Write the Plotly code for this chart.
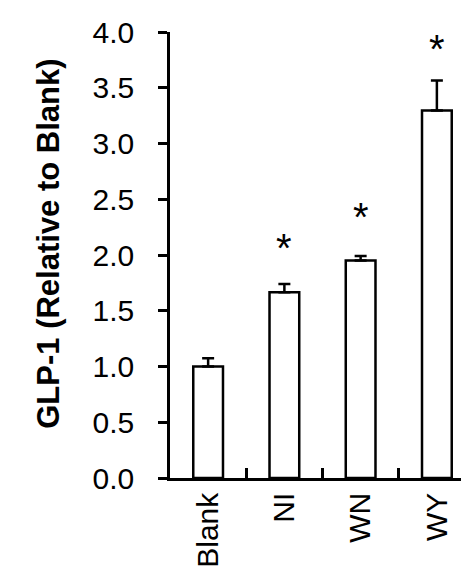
import plotly.graph_objects as go

categories = ["Blank", "NI", "WN", "WY"]
values = [1.0, 1.667, 1.95, 3.297]
errors_up = [0.075, 0.072, 0.04, 0.269]
star_labels = ["", "*", "*", "*"]
star_level = [None, 2.02, 2.30, 3.80]
y_ticks = [0.0, 0.5, 1.0, 1.5, 2.0, 2.5, 3.0, 3.5, 4.0]
y_title = "GLP-1 (Relative to Blank)"

FONT = "Liberation Sans, Arial, sans-serif"

fig = go.Figure()
fig.add_trace(go.Bar(
    x=categories, y=values, width=0.39,
    marker=dict(color="white", line=dict(color="black", width=2.5)),
    error_y=dict(type="data", symmetric=False, array=errors_up,
                 arrayminus=[0] * len(values), color="black",
                 thickness=2.5, width=6),
    showlegend=False,
))

for c, s, yl in zip(categories, star_labels, star_level):
    if s and yl is not None:
        fig.add_annotation(x=c, y=yl, text=s, showarrow=False,
                           xanchor="center", yanchor="middle", yshift=5,
                           font=dict(family=FONT, size=40, color="black"))

fig.add_annotation(xref="paper", yref="paper", x=-0.397, y=0.525,
                   text="<b>" + y_title + "</b>", textangle=-90,
                   showarrow=False, xanchor="center", yanchor="middle",
                   font=dict(family=FONT, size=31, color="black"))

fig.update_layout(
    width=469, height=577,
    margin=dict(l=162, r=2, t=24, b=107),
    paper_bgcolor="white", plot_bgcolor="white",
    font=dict(family=FONT, color="black"),
    bargap=0.61,
)
fig.update_yaxes(
    range=[0, 4], tickvals=y_ticks, ticktext=[f"{v:.1f}" for v in y_ticks],
    showgrid=False, zeroline=False, showline=True, linecolor="black",
    linewidth=2.5, ticks="outside", ticklen=9, tickwidth=2.5,
    tickcolor="black", tickfont=dict(family=FONT, size=30, color="black"),
    ticklabelstandoff=18,
)
fig.update_xaxes(
    showgrid=False, zeroline=False, showline=True, linecolor="black",
    linewidth=2.5, ticks="inside", tickson="boundaries", ticklen=10,
    tickwidth=2.5, tickcolor="black", tickangle=-90,
    tickfont=dict(family=FONT, size=30, color="black"),
    ticklabelstandoff=0,
)

fig.write_html("out.html")
